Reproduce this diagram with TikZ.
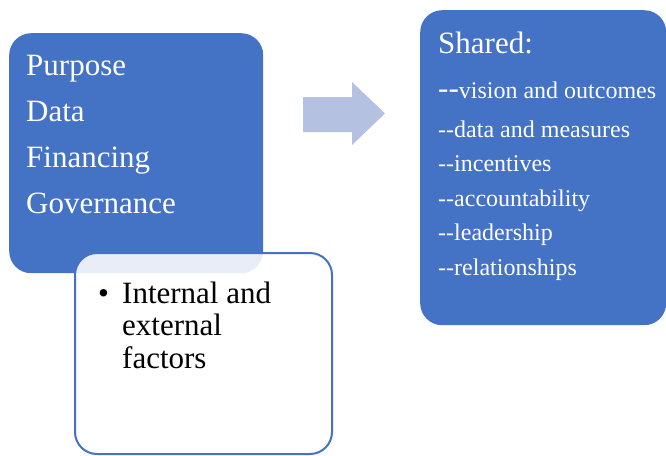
\documentclass[tikz,border=0pt]{standalone}
\usepackage{fontspec}
\setmainfont{Liberation Serif}
\definecolor{boxblue}{HTML}{4472C4}
\definecolor{arrowblue}{HTML}{B4C1E1}
% two plain hyphens, kept apart so they do not turn into a dash
\newcommand\twohyph{-\kern0pt-}

\begin{document}
\begin{tikzpicture}[x=1pt,y=-1pt,
  bluebox/.style={fill=boxblue, rounded corners=22pt, anchor=north west, inner sep=0pt},
  whitebox/.style={draw=boxblue, line width=2pt, fill=white, fill opacity=0.88,
    rounded corners=22pt, anchor=north west, inner sep=0pt},
  bigtxt/.style={anchor=base west, inner sep=0pt, font=\fontsize{31}{33}\selectfont},
  smalltxt/.style={anchor=base west, inner sep=0pt, text=white, font=\fontsize{24}{26}\selectfont}]
\useasboundingbox (0,0) rectangle (666,455);

% boxes
\node[bluebox, minimum width=254pt, minimum height=240pt] (topics) at (9,33) {};
\node[whitebox, minimum width=257pt, minimum height=201pt] (factors) at (74,252) {};
\node[bluebox, minimum width=246pt, minimum height=315pt] (shared) at (420,10) {};

% block arrow
\fill[arrowblue] (303,97) -- (352,97) -- (352,82) -- (385,113.5) -- (352,145)
  -- (352,132) -- (303,132) -- cycle;

% left box text
\foreach \t [count=\i] in {Purpose, Data, Financing, Governance}
  \node[bigtxt, text=white] (topic\i) at (26,75+46*\i-46) {\t};

% bullet box text
\node[bigtxt] (bullet) at (98,303) {•};
\node[bigtxt] (fac1) at (122,303) {Internal and};
\node[bigtxt] (fac2) at (122,335.5) {external};
\node[bigtxt] (fac3) at (122,368) {factors};

% right box text
\node[bigtxt, text=white] (sharedhead) at (438,53) {Shared:};
\node[smalltxt] (item1) at (438,98) {{\fontsize{31}{33}\selectfont\twohyph}vision and outcomes};
\foreach \t [count=\i] in {data and measures, incentives, accountability, leadership, relationships}
  \node[smalltxt] (item\the\numexpr\i+1\relax) at (438,137+34.5*\i-34.5) {\twohyph\t};

\end{tikzpicture}
\end{document}
